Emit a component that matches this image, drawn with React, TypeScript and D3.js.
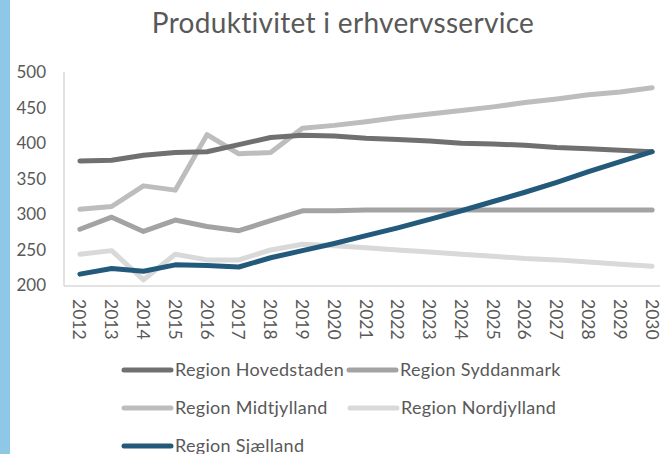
import React from "react";
import * as d3 from "d3";

const years = ["2012","2013","2014","2015","2016","2017","2018","2019","2020","2021","2022","2023","2024","2025","2026","2027","2028","2029","2030"];
const yTicks = [200, 250, 300, 350, 400, 450, 500];

const hovedstaden = [375,376,383,387,388,398,408,411,410,407,405,403,400,399,397,394,392,390,388];
const syddanmark = [279,296,276,292,283,277,291,305,305,306,306,306,306,306,306,306,306,306,306];
const midtjylland = [307,311,340,334,412,385,387,421,425,430,436,441,446,451,457,462,468,472,478];
const nordjylland = [244,249,208,244,236,236,250,258,256,253,250,247,244,241,238,236,233,230,227];
const sjaelland = [216,224,220,229,228,226,239,249,259,270,281,293,305,318,331,345,360,374,388];

const seriesNames = ["Region Hovedstaden","Region Syddanmark","Region Midtjylland","Region Nordjylland","Region Sjælland"];
const seriesValues = [hovedstaden, syddanmark, midtjylland, nordjylland, sjaelland];
const seriesColors = ["#707070","#a3a3a3","#bdbdbd","#d9d9d9","#235a7c"];
// drawing order: lighter first, Sjælland on top
const drawOrder = [3, 2, 1, 0, 4];

const FONT = "Lato, 'Open Sans', sans-serif";
const TEXT = "#595959";

export default function App() {
  const W = 660, H = 454;
  const x = d3.scaleBand<string>().domain(years).range([64, 668]).padding(0);
  const cx = (yr: string) => (x(yr) as number) + x.bandwidth() / 2;
  const y = d3.scaleLinear().domain([200, 500]).range([285.5, 72]);
  const line = d3.line<number>().x((_, i) => cx(years[i])).y((v) => y(v));

  const legendItems = [
    { i: 0, lx: 124, ly: 370 },
    { i: 1, lx: 349, ly: 370 },
    { i: 2, lx: 124, ly: 408 },
    { i: 3, lx: 350, ly: 408 },
    { i: 4, lx: 124, ly: 446 },
  ];

  return (
    <svg width={W} height={H} style={{ position: "absolute", left: 0, top: 0, background: "#fff" }} fontFamily={FONT}>
      <rect x={0} y={0} width={W} height={H} fill="#ffffff" />
      <rect x={0} y={0} width={10} height={H} fill="#8fc8e7" />
      <text x={343} y={33} textAnchor="middle" fontSize={28} letterSpacing={0.3} fill={TEXT}>Produktivitet i erhvervsservice</text>

      {yTicks.map((t) => (
        <text key={t} x={46} y={y(t)} dy="0.35em" textAnchor="end" fontSize={17} fill={TEXT}>{t}</text>
      ))}
      <line x1={64} x2={64} y1={72} y2={286} stroke="#d9d9d9" strokeWidth={1.5} />
      <line x1={64} x2={W} y1={286} y2={286} stroke="#d9d9d9" strokeWidth={1.5} />

      {years.map((yr) => (
        <text key={yr} transform={`translate(${cx(yr)},299) rotate(90)`} textAnchor="start" dominantBaseline="central" fontSize={17.5} fill={TEXT}>{yr}</text>
      ))}

      {drawOrder.map((i) => (
        <path key={i} d={line(seriesValues[i]) as string} fill="none" stroke={seriesColors[i]} strokeWidth={5} strokeLinejoin="round" strokeLinecap="round" />
      ))}

      {legendItems.map(({ i, lx, ly }) => (
        <g key={i}>
          <line x1={lx} x2={lx + 47} y1={ly} y2={ly} stroke={seriesColors[i]} strokeWidth={5} strokeLinecap="round" />
          <text x={lx + 51} y={ly} dy="0.35em" fontSize={18} letterSpacing={0.3} fill={TEXT}>{seriesNames[i]}</text>
        </g>
      ))}
    </svg>
  );
}
